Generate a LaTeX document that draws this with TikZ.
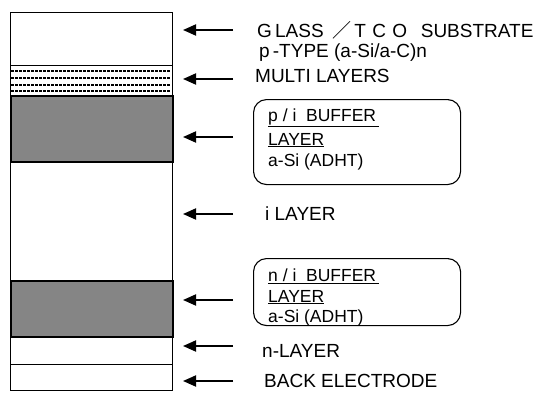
\documentclass[tikz,border=0pt]{standalone}
\usepackage{fontspec}
\setmainfont{Liberation Sans}
\newfontfamily\cjk{Noto Sans CJK JP}
\usetikzlibrary{arrows.meta}
\begin{document}
\begin{tikzpicture}[x=1pt,y=-1pt,
  layer/.style={draw=black,line width=1.3pt,anchor=north west,inner sep=0pt,minimum width=162pt},
  greylayer/.style={layer,fill=black!48,line width=1.8pt},
  lbl/.style={anchor=west,inner sep=0pt,font=\fontsize{19}{21}\selectfont},
  blbl/.style={anchor=west,inner sep=0pt,font=\fontsize{17.5}{19}\selectfont},
  ptr/.style={line width=1.9pt,-{Triangle[length=13pt,width=11pt]}},
  bufbox/.style={draw=black,line width=1.1pt,rounded corners=13pt,anchor=north west,minimum width=207pt,inner sep=0pt}]
\useasboundingbox (0,0) rectangle (533,394);
% layers
\node[layer,minimum height=53pt] (glass) at (10,12) {};
\node[layer,minimum height=30pt] (multi) at (10,65) {};
\node[greylayer,minimum height=66pt] (pibuf) at (10,95) {};
\node[layer,minimum height=119pt] (ilay) at (10,161) {};
\node[greylayer,minimum height=56pt] (nibuf) at (10,280) {};
\node[layer,minimum height=28pt] (nlay) at (10,336) {};
\node[layer,minimum height=26pt] (back) at (10,364) {};
% multilayer dotted rows
\foreach \yy in {71,78,85,91}
  \draw[line width=1.2pt,dash pattern=on 2.5pt off 1.5pt] (11,\yy) -- (171,\yy);
% labels
\node[lbl] (tglass) at (257,30) {G\,LASS \,{\cjk ／}\,T\,\,C\,\,O \ \,SUBSTRATE};
\node[lbl] (tptype) at (259,53) {p\,-TYPE (a-Si/a-C)n};
\node[lbl] (tmulti) at (255,76) {MULTI LAYERS};
\node[bufbox,minimum height=85pt] (box1) at (253,99) {};
\node[blbl] (b1a) at (268,118) {\underline{p / i \ BUFFER\,}};
\node[blbl] (b1b) at (268,140) {\underline{LAYER}};
\node[blbl] (b1c) at (268,162) {a-Si (ADHT)};
\node[lbl] (tilay) at (265,214) {i LAYER};
\node[bufbox,minimum height=67pt] (box2) at (253,258) {};
\node[blbl] (b2a) at (268,276) {\underline{n / i \ BUFFER\,}};
\node[blbl] (b2b) at (268,297) {\underline{LAYER}};
\node[blbl] (b2c) at (268,318) {a-Si (ADHT)};
\node[lbl] (tnlay) at (262,351) {n-LAYER};
\node[lbl] (tback) at (264,381) {BACK ELECTRODE};
% arrows
\coordinate (a1) at (233,30);
\coordinate (a2) at (233,79);
\coordinate (a3) at (233,137);
\coordinate (a4) at (233,214);
\coordinate (a5) at (233,300);
\coordinate (a6) at (233,346);
\coordinate (a7) at (233,381);
\draw[ptr] (a1) -- (183,30);
\draw[ptr] (a2) -- (183,79);
\draw[ptr] (a3) -- (183,137);
\draw[ptr] (a4) -- (183,214);
\draw[ptr] (a5) -- (183,300);
\draw[ptr] (a6) -- (183,346);
\draw[ptr] (a7) -- (183,381);
\end{tikzpicture}
\end{document}
